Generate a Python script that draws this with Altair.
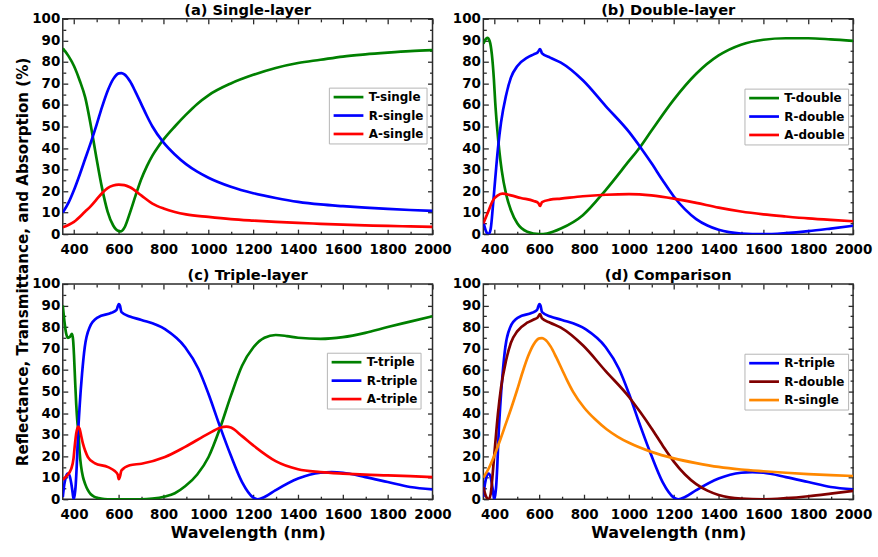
import altair as alt
import pandas as pd

# ---------------- data ----------------
# (a) single layer
ts_x = [350, 375, 400, 425, 450, 475, 500, 525, 550, 575, 600, 610, 625, 650, 675, 700, 725, 750, 775, 800, 850, 900, 950, 1000, 1100, 1200, 1300, 1400, 1500, 1600, 1700, 1800, 1900, 2000]
ts_y = [86.3, 82.8, 78.1, 71.5, 63.5, 50.5, 35.5, 21.5, 10.5, 4.0, 1.4, 1.3, 3.0, 10.0, 18.0, 25.5, 31.5, 36.5, 40.5, 44.0, 50.0, 55.5, 60.5, 64.5, 70.0, 74.0, 77.2, 79.5, 81.0, 82.5, 83.5, 84.3, 85.0, 85.5]
rs_x = [350, 375, 400, 425, 450, 475, 500, 525, 550, 575, 600, 612, 625, 650, 675, 700, 725, 750, 800, 850, 900, 950, 1000, 1100, 1200, 1300, 1400, 1500, 1600, 1700, 1800, 1900, 2000]
rs_y = [10.0, 14.5, 20.5, 27.5, 35.0, 42.5, 50.5, 59.0, 66.5, 72.0, 74.7, 74.8, 74.2, 71.0, 66.0, 60.5, 55.0, 50.0, 42.5, 37.0, 32.5, 29.0, 26.2, 22.0, 19.0, 16.8, 15.0, 13.8, 13.0, 12.3, 11.7, 11.2, 10.8]
as_x = [350, 400, 450, 475, 500, 525, 550, 575, 600, 625, 650, 700, 750, 800, 850, 900, 1000, 1100, 1200, 1300, 1400, 1500, 1600, 1700, 1800, 1900, 2000]
as_y = [3.2, 5.7, 10.5, 13.0, 16.0, 19.0, 21.4, 22.6, 23.0, 22.8, 21.8, 18.0, 14.2, 11.9, 10.3, 9.2, 8.0, 7.0, 6.3, 5.7, 5.2, 4.8, 4.4, 4.1, 3.8, 3.6, 3.4]

# (b) double layer
td_x = [350, 360, 368, 378, 388, 397, 403, 412, 422, 432, 451, 473, 502, 546, 600, 634, 696, 794, 896, 1000, 1050, 1100, 1200, 1300, 1400, 1500, 1600, 1700, 1800, 1900, 2000]
td_y = [88.5, 90.5, 91.2, 89.7, 83.5, 72.0, 61.2, 48.8, 38.0, 29.6, 18.8, 11.1, 4.9, 1.1, 0.0, 0.3, 2.6, 8.8, 20.5, 34.0, 40.5, 48.0, 62.5, 74.5, 83.0, 88.0, 90.3, 91.0, 91.0, 90.5, 89.8]
rd_x = [350, 363, 374, 383, 393, 403, 415, 429, 451, 473, 502, 546, 575, 593, 603, 612, 648, 696, 794, 896, 1000, 1050, 1100, 1150, 1200, 1250, 1300, 1350, 1400, 1500, 1600, 1700, 1800, 1900, 2000]
rd_y = [5.7, 1.1, 0.0, 2.6, 13.4, 25.7, 39.6, 51.9, 64.3, 72.7, 78.1, 82.0, 83.5, 84.5, 86.0, 84.0, 82.0, 79.7, 71.5, 59.5, 47.5, 40.5, 33.0, 25.0, 17.5, 11.5, 7.0, 4.0, 2.0, 0.3, 0.0, 0.5, 1.4, 2.6, 3.9]
ad_x = [350, 371, 393, 415, 436, 473, 517, 575, 595, 603, 612, 648, 696, 794, 896, 1000, 1100, 1200, 1300, 1400, 1500, 1600, 1700, 1800, 1900, 2000]
ad_y = [4.9, 10.3, 15.7, 18.0, 18.8, 18.0, 16.8, 15.4, 14.5, 13.1, 14.9, 16.0, 16.5, 17.6, 18.3, 18.6, 18.0, 16.5, 14.5, 12.3, 10.5, 9.2, 8.2, 7.3, 6.6, 6.0]

# (c) triple layer
tt_x = [350, 358, 365, 373, 382, 391, 396, 400, 405, 410, 415, 420, 425, 432, 440, 450, 462, 475, 492, 520, 550, 700, 750, 806, 850, 896, 950, 1000, 1050, 1100, 1150, 1200, 1250, 1300, 1350, 1400, 1500, 1600, 1700, 1800, 1900, 2000]
tt_y = [90.0, 82.0, 77.0, 75.0, 75.5, 76.8, 74.0, 67.0, 55.0, 44.0, 36.0, 31.0, 22.0, 15.0, 10.4, 7.0, 4.2, 2.3, 1.1, 0.3, 0.0, 0.0, 0.3, 1.3, 2.8, 6.0, 11.5, 19.5, 32.5, 48.0, 62.0, 70.5, 75.0, 76.3, 75.8, 75.0, 74.5, 75.3, 77.3, 80.0, 82.5, 85.0]
rt_x = [350, 357, 364, 372, 378, 388, 394, 398, 403, 407, 412, 418, 425, 436, 448, 470, 507, 567, 590, 600, 605, 612, 649, 701, 806, 896, 955, 1000, 1050, 1100, 1150, 1200, 1220, 1250, 1300, 1400, 1500, 1550, 1600, 1700, 1800, 1900, 2000]
rt_y = [1.0, 7.0, 10.4, 11.9, 11.5, 7.3, 3.0, 0.0, 2.0, 5.7, 15.0, 30.0, 42.8, 58.3, 70.6, 79.9, 84.5, 86.6, 88.0, 90.7, 90.0, 86.9, 84.9, 83.3, 79.0, 70.6, 60.6, 49.0, 34.2, 20.3, 8.0, 0.8, 0.0, 1.0, 4.2, 9.6, 12.3, 12.6, 12.3, 10.3, 8.0, 5.7, 4.6]
at_x = [350, 366, 388, 398, 403, 410, 418, 425, 432, 440, 450, 462, 492, 552, 582, 595, 600, 605, 612, 649, 701, 806, 896, 1000, 1050, 1080, 1100, 1150, 1200, 1300, 1400, 1500, 1600, 1700, 1800, 1900, 2000]
at_y = [9.1, 10.7, 14.2, 19.0, 24.3, 30.5, 33.8, 32.8, 29.5, 25.8, 22.5, 19.6, 16.8, 14.9, 13.1, 11.5, 9.3, 10.5, 13.4, 15.8, 16.5, 19.6, 24.3, 30.5, 33.1, 33.7, 33.3, 29.3, 25.0, 17.7, 13.9, 12.6, 11.9, 11.4, 11.1, 10.7, 10.3]

# ---------------- styling ----------------
FONT = "DejaVu Sans"
AX = "#2b2b2b"
W, H = 371, 216
XDOM = [350, 2000]
YDOM = [0, 100]
X_MAJOR = list(range(400, 2001, 200))
X_MINOR = list(range(500, 2000, 200))
Y_MAJOR = list(range(0, 101, 10))
Y_MINOR = list(range(5, 100, 10))


def long_df(series):
    rows = []
    for name, xs, ys in series:
        for x, y in zip(xs, ys):
            rows.append({"wl": x, "val": y, "series": name})
    return pd.DataFrame(rows)


def make_axis(orient, values, size, labels, title=None):
    kw = dict(orient=orient, values=values, tickSize=size, offset=-size,
              domain=False, grid=False, labels=labels, ticks=True,
              tickColor=AX, tickWidth=1.3, title=title, minExtent=0)
    if labels:
        kw.update(labelFont=FONT, labelFontSize=13.5, labelFontWeight="bold",
                  labelColor="black", labelFlush=False, labelOverlap=False,
                  format="d", labelPadding=3 if orient == "left" else 8)
    if title:
        kw.update(titleFont=FONT, titleFontSize=16, titleFontWeight="bold",
                  titleColor="black", titlePadding=4)
    return alt.Axis(**kw)


def panel(series, colors, title, xtitle, lx, ly):
    df = long_df(series)
    names = [s[0] for s in series]
    xs = alt.Scale(domain=XDOM, nice=False, zero=False)
    ys = alt.Scale(domain=YDOM, nice=False, zero=False)
    base = alt.Chart(df)
    lines = base.mark_line(strokeWidth=2.7, interpolate="monotone", clip=True).encode(
        x=alt.X("wl:Q", scale=xs, axis=make_axis("bottom", X_MAJOR, 5, True, xtitle)),
        y=alt.Y("val:Q", scale=ys, axis=make_axis("left", Y_MAJOR, 5, True)),
        color=alt.Color("series:N", sort=names,
                        scale=alt.Scale(domain=names, range=colors),
                        legend=alt.Legend(orient="none", legendX=lx, legendY=ly, title=None,
                                          strokeColor="#b5b5b5", fillColor="white",
                                          padding=3, rowPadding=5.5,
                                          labelFont=FONT, labelFontSize=12,
                                          labelFontWeight="bold", labelColor="black",
                                          symbolType="M-1,0H5.3", symbolSize=90,
                                          symbolStrokeWidth=2.7, labelOffset=24)),
    )

    def ghost(xax, yax):
        return base.mark_line(opacity=0).encode(
            x=alt.X("wl:Q", scale=xs, axis=xax),
            y=alt.Y("val:Q", scale=ys, axis=yax),
            detail="series:N",
        )

    l2 = ghost(make_axis("top", X_MAJOR, 5, False), make_axis("right", Y_MAJOR, 5, False))
    l3 = ghost(make_axis("bottom", X_MINOR, 3, False), make_axis("left", Y_MINOR, 3, False))
    l4 = ghost(make_axis("top", X_MINOR, 3, False), make_axis("right", Y_MINOR, 3, False))
    return alt.layer(lines, l2, l3, l4).resolve_axis(x="independent", y="independent").properties(
        width=W, height=H,
        title=alt.TitleParams(title, font=FONT, fontSize=14.7, fontWeight="bold",
                              color="black", anchor="middle", offset=-6))


GREEN, BLUE, RED, MAROON, ORANGE = "#008000", "#0000ff", "#ff0000", "#800000", "#ff8800"

pa = panel([("T-single", ts_x, ts_y), ("R-single", rs_x, rs_y), ("A-single", as_x, as_y)],
           [GREEN, BLUE, RED], "(a) Single-layer", None, 267, 69)
pb = panel([("T-double", td_x, td_y), ("R-double", rd_x, rd_y), ("A-double", ad_x, ad_y)],
           [GREEN, BLUE, RED], "(b) Double-layer", None, 262, 70)
pc = panel([("T-triple", tt_x, tt_y), ("R-triple", rt_x, rt_y), ("A-triple", at_x, at_y)],
           [GREEN, BLUE, RED], "(c) Triple-layer", "Wavelength (nm)", 265, 69)
pd_ = panel([("R-triple", rt_x, rt_y), ("R-double", rd_x, rd_y), ("R-single", rs_x, rs_y)],
            [BLUE, MAROON, ORANGE], "(d) Comparison", "Wavelength (nm)", 262, 70)

chart = alt.concat(pa, pb, pc, pd_, columns=2, spacing={"row": 50, "column": 51},
                   bounds="flush").resolve_scale(
    color="independent"
).properties(
    title=alt.TitleParams("Reflectance, Transmittance, and Absorption (%)", orient="left",
                          anchor="middle", font=FONT, fontSize=15.2, fontWeight="bold",
                          color="black", offset=0, dx=10),
    padding={"left": 15, "top": 1, "right": 5, "bottom": 5},
    background="white",
).configure_view(stroke=AX, strokeWidth=1.5)

chart.save("out.html", embed_options={"renderer": "svg", "actions": False})
